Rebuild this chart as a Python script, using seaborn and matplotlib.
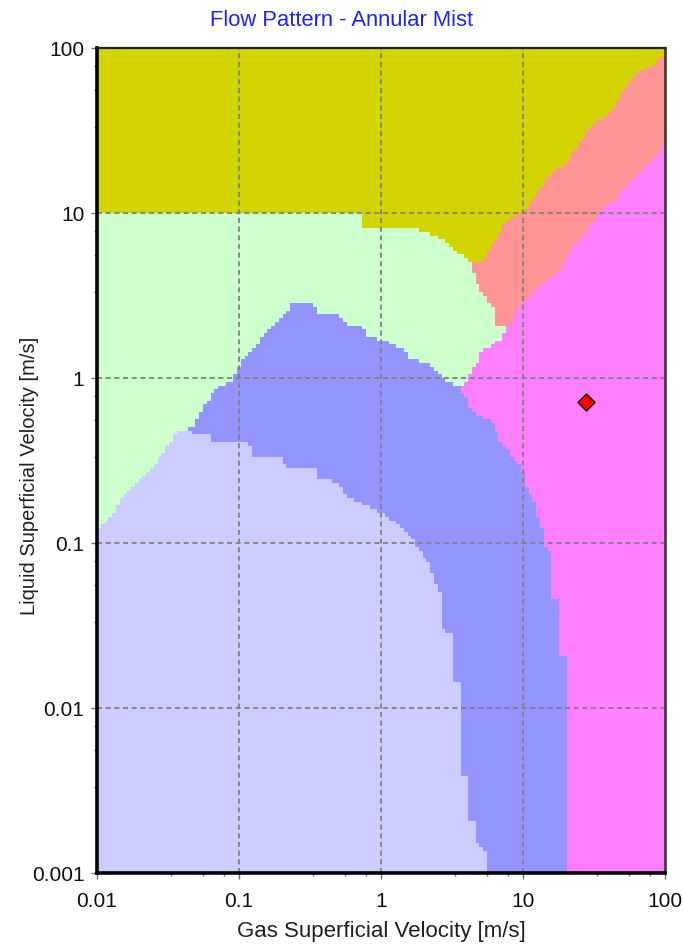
import numpy as np
import matplotlib
matplotlib.use("Agg")
import matplotlib.pyplot as plt
import matplotlib.ticker as mticker
from matplotlib.path import Path
from matplotlib.colors import ListedColormap
import seaborn as sns

# ---- flow regime boundaries (gas superficial velocity, liquid superficial velocity) in m/s ----
# lower edge of the top (olive) regime, left to right
olive_x = [0.01, 0.746, 0.746, 1.88, 2.11, 3.06, 3.21, 4.04, 4.24, 5.22, 6.15, 8.09,
           10.0, 12.6, 15.5, 20.4, 26.5, 31.1, 39.1, 48.2, 59.6, 74.6, 87.9, 100.0]
olive_y = [10.0, 10.0, 8.22, 7.89, 7.57, 6.58, 5.97, 5.41, 4.98, 4.98, 6.58, 9.46,
           10.0, 13.2, 17.5, 20.1, 28.9, 35.1, 38.2, 50.5, 66.7, 76.7, 81.1, 90.0]

# green / salmon edge, top to bottom
green_salmon_x = [4.24, 4.74, 5.22, 6.15, 6.15, 7.71]
green_salmon_y = [4.98, 3.77, 3.27, 2.69, 2.15, 2.04]

# salmon / magenta edge, left to right
salmon_magenta_x = [7.71, 10.0, 12.6, 18.2, 21.4, 26.5, 34.8, 45.9, 59.6, 78.3, 96.8, 100.0]
salmon_magenta_y = [2.04, 2.85, 3.56, 4.52, 5.97, 7.16, 10.0, 12.5, 15.8, 20.1, 25.1, 25.8]

# green / magenta edge, top to bottom
green_magenta_x = [7.71, 6.89, 5.22, 4.74, 4.04, 3.60]
green_magenta_y = [2.04, 1.70, 1.48, 1.23, 0.973, 0.881]

# blue / magenta edge, top to bottom
blue_magenta_x = [3.60, 4.04, 4.24, 6.15, 6.89, 8.51, 10.0, 10.7, 11.7, 12.6, 13.6, 13.8,
                  15.5, 15.5, 17.6, 17.6, 20.4, 20.4]
blue_magenta_y = [0.881, 0.736, 0.640, 0.533, 0.421, 0.332, 0.277, 0.209, 0.190, 0.152,
                  0.125, 0.104, 0.0869, 0.0471, 0.0452, 0.0204, 0.0204, 0.001]

# green / blue edge (top of the blue hump), left to right
green_blue_x = [0.0366, 0.0474, 0.0531, 0.070, 0.0908, 0.107, 0.141, 0.185, 0.240, 0.332,
                0.354, 0.514, 0.540, 0.746, 0.796, 1.03, 1.43, 1.60, 2.21, 2.92, 3.60]
green_blue_y = [0.471, 0.505, 0.614, 0.881, 0.973, 1.29, 1.70, 2.15, 2.85, 2.85,
                2.48, 2.48, 2.15, 2.04, 1.77, 1.70, 1.48, 1.29, 1.23, 0.973, 0.881]

# lavender / green edge, left to right
lav_green_x = [0.01, 0.0105, 0.013, 0.0152, 0.0195, 0.0248, 0.0292, 0.0343, 0.0366]
lav_green_y = [0.125, 0.125, 0.152, 0.190, 0.241, 0.289, 0.351, 0.439, 0.471]

# lavender / blue edge, left to right
lav_blue_x = [0.0366, 0.0625, 0.0646, 0.119, 0.126, 0.204, 0.211, 0.354, 0.360, 0.514,
              0.540, 0.678, 1.03, 1.36, 1.68, 2.11, 2.48, 2.74, 2.74, 3.16, 3.16,
              3.60, 3.60, 4.10, 4.10, 4.74, 4.74, 5.40, 5.57]
lav_blue_y = [0.471, 0.465, 0.404, 0.404, 0.341, 0.332, 0.289, 0.277, 0.241, 0.234,
              0.201, 0.177, 0.152, 0.125, 0.104, 0.0789, 0.0541, 0.0452, 0.0297, 0.0285,
              0.0148, 0.0142, 0.00404, 0.00382, 0.00209, 0.00201, 0.00152, 0.00144, 0.001]

# operating point
point_gas = [28.0]
point_liq = [0.72]

x_ticks = [0.01, 0.1, 1, 10, 100]
x_labels = ["0.01", "0.1", "1", "10", "100"]
y_ticks = [0.001, 0.01, 0.1, 1, 10, 100]
y_labels = ["0.001", "0.01", "0.1", "1", "10", "100"]
minor_mult = [3.33, 5.56, 7.78]

regime_colors = ["#D4D400", "#FF9494", "#CCFFCC", "#9494FF", "#CCCCFF", "#FF80FF"]

X0, X1, Y0, Y1 = 0.01, 100.0, 0.001, 100.0

# region outlines, painted in order (later ones cover earlier ones)
regions = [
    # salmon
    (olive_x[8:] + [X1, olive_x[8]], olive_y[8:] + [Y0, Y0]),
    # green
    (olive_x[:9] + green_salmon_x[1:] + [green_salmon_x[-1], X0],
     olive_y[:9] + green_salmon_y[1:] + [Y0, Y0]),
    # blue
    (green_blue_x + blue_magenta_x[1:] + [green_blue_x[0]],
     green_blue_y + blue_magenta_y[1:] + [Y0]),
    # lavender
    (lav_green_x + lav_blue_x[1:] + [X0], lav_green_y + lav_blue_y[1:] + [Y0]),
    # magenta
    (salmon_magenta_x + [X1] + (green_magenta_x + blue_magenta_x[1:])[::-1],
     salmon_magenta_y + [Y0] + (green_magenta_y + blue_magenta_y[1:])[::-1]),
]

sns.set_style("white")
plt.rcParams["font.family"] = ["Liberation Sans", "DejaVu Sans"]

W, H = 683, 947
fig = plt.figure(figsize=(W / 100, H / 100), dpi=100)
ax = fig.add_axes([97 / W, 1 - 873 / H, 568 / W, 825 / H])
ax.set_xscale("log")
ax.set_yscale("log")

# classify a fine log-spaced cell grid into regimes
nx, ny = 150, 220
xe = np.logspace(np.log10(X0), np.log10(X1), nx + 1)
ye = np.logspace(np.log10(Y0), np.log10(Y1), ny + 1)
lxc = 0.5 * (np.log10(xe[:-1]) + np.log10(xe[1:]))
lyc = 0.5 * (np.log10(ye[:-1]) + np.log10(ye[1:]))
LX, LY = np.meshgrid(lxc, lyc)
pts = np.column_stack([LX.ravel(), LY.ravel()])
codes = np.zeros(LX.shape, dtype=int)
for code, (rx, ry) in enumerate(regions, start=1):
    path = Path(np.column_stack([np.log10(rx), np.log10(ry)]))
    codes[path.contains_points(pts).reshape(LX.shape)] = code

ax.pcolormesh(xe, ye, codes, cmap=ListedColormap(regime_colors),
              vmin=-0.5, vmax=len(regime_colors) - 0.5, shading="flat", zorder=1)

sns.scatterplot(x=point_gas, y=point_liq, marker="D", s=75, color="#FF0000",
                edgecolor="black", linewidth=1.0, ax=ax, zorder=5)

ax.set_xlim(X0, X1)
ax.set_ylim(Y0, Y1)
ax.xaxis.set_major_locator(mticker.FixedLocator(x_ticks))
ax.xaxis.set_major_formatter(mticker.FixedFormatter(x_labels))
ax.yaxis.set_major_locator(mticker.FixedLocator(y_ticks))
ax.yaxis.set_major_formatter(mticker.FixedFormatter(y_labels))
minor_x = [m * 10.0 ** k for k in range(-2, 2) for m in minor_mult]
minor_y = [m * 10.0 ** k for k in range(-3, 2) for m in minor_mult]
ax.xaxis.set_minor_locator(mticker.FixedLocator(minor_x))
ax.yaxis.set_minor_locator(mticker.FixedLocator(minor_y))
ax.xaxis.set_minor_formatter(mticker.NullFormatter())
ax.yaxis.set_minor_formatter(mticker.NullFormatter())

ax.set_axisbelow(False)
ax.grid(True, which="major", color="#808080", linestyle=(0, (2.8, 2.0)), linewidth=1.3)
ax.grid(False, which="minor")

ax.tick_params(axis="both", which="major", direction="out", length=4, width=1,
               color="#707070", labelsize=15, labelcolor="#101010",
               bottom=True, left=True)
ax.tick_params(axis="x", which="major", pad=10)
ax.tick_params(axis="y", which="major", pad=5)
ax.tick_params(axis="both", which="minor", direction="out", length=2.5, width=1,
               color="#707070", bottom=True, left=True)

for side in ("left", "bottom"):
    ax.spines[side].set_color("black")
    ax.spines[side].set_linewidth(2.6)
ax.spines["top"].set_color("#202020")
ax.spines["top"].set_linewidth(1.6)
ax.spines["right"].set_color("#404040")
ax.spines["right"].set_linewidth(2.0)
for sp in ax.spines.values():
    sp.set_zorder(6)

ax.set_xlabel("Gas Superficial Velocity [m/s]", fontsize=16, color="#202020")
ax.xaxis.set_label_coords(0.5, -(931 - 873) / 825)
ax.xaxis.label.set_va("center")
ax.set_ylabel("Liquid Superficial Velocity [m/s]", fontsize=14.5, color="#202020")
ax.yaxis.set_label_coords((30 - 97) / 568, (873 - 476) / 825)
ax.yaxis.label.set_va("center")

fig.text(0.5, 1 - 20 / H, "Flow Pattern - Annular Mist", fontsize=15.8,
         color="#2020FF", ha="center", va="center")

fig.savefig("out.png", dpi=100, facecolor="white")
